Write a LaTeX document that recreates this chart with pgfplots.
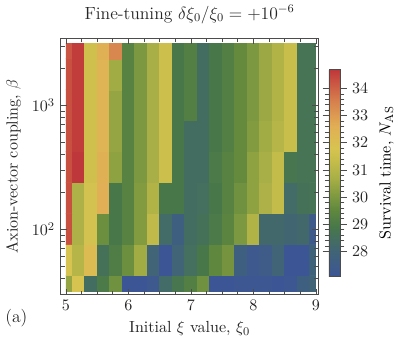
\documentclass[11pt,border=0pt]{standalone}
\usepackage{pgfplots}
\pgfplotsset{compat=1.18}

% blue -> green -> yellow -> red, positions = (value-27.08)*100pt
\pgfplotsset{
  colormap={darkrainbow}{
    rgb255(0pt)=(60,85,150)
    rgb255(92pt)=(65,100,118)
    rgb255(182pt)=(72,120,74)
    rgb255(242pt)=(95,135,62)
    rgb255(302pt)=(130,155,64)
    rgb255(362pt)=(168,175,70)
    rgb255(432pt)=(200,190,75)
    rgb255(472pt)=(215,195,80)
    rgb255(552pt)=(225,175,85)
    rgb255(642pt)=(215,130,78)
    rgb255(722pt)=(200,80,65)
    rgb255(762pt)=(190,55,58)
  }
}

\begin{document}
\begin{tikzpicture}
\begin{axis}[
    scale only axis,
    width=176pt, height=175pt,
    xmin=4.915, xmax=9.045,
    ymode=log, ymin=29.58, ymax=3483.4,
    xtick={5,6,7,8,9}, minor x tick num=3,
    tick align=inside,
    axis line style={black!70},
    every tick/.style={black!70},
    tick label style={black!85},
    label style={black!85},
    title style={black!85, font=\large},
    title={Fine-tuning $\delta\xi_0/\xi_0=+10^{-6}$},
    xlabel={Initial $\xi$ value, $\xi_0$},
    ylabel={Axion-vector coupling, $\beta$},
    colormap name=darkrainbow,
    point meta min=27.08, point meta max=34.70,
    colorbar,
    colorbar style={
        at={(1.040,0.475)}, anchor=west,
        width=7.7pt, height=141pt,
        ytick={28,29,30,31,32,33,34},
        minor y tick num=4,
        tick align=outside,
        axis line style={black!70},
        tick label style={black!85},
        ylabel={Survival time, $N_{\mathrm{AS}}$},
    },
    axis on top,
]
\begin{scope}
\clip (axis cs:5,31.6228) rectangle (axis cs:9,3162.28);
\addplot[matrix plot*, mesh/cols=21, point meta=explicit]
  table[meta=c, row sep=\\] {
  x y c \\
  5.0 31.6228 30.4 \\ 5.2 31.6228 31.8 \\ 5.4 31.6228 28.4 \\ 5.6 31.6228 29.0 \\ 5.8 31.6228 29.8 \\ 6.0 31.6228 27.1 \\ 6.2 31.6228 27.1 \\
  6.4 31.6228 27.3 \\ 6.6 31.6228 28.3 \\ 6.8 31.6228 28.8 \\ 7.0 31.6228 29.2 \\ 7.2 31.6228 29.8 \\ 7.4 31.6228 27.1 \\ 7.6 31.6228 27.1 \\
  7.8 31.6228 27.2 \\ 8.0 31.6228 27.2 \\ 8.2 31.6228 27.2 \\ 8.4 31.6228 27.1 \\ 8.6 31.6228 27.2 \\ 8.8 31.6228 27.7 \\ 9.0 31.6228 28.0 \\
  5.0 56.2341 31.8 \\ 5.2 56.2341 31.0 \\ 5.4 56.2341 32.1 \\ 5.6 56.2341 28.6 \\ 5.8 56.2341 29.1 \\ 6.0 56.2341 29.7 \\ 6.2 56.2341 30.6 \\
  6.4 56.2341 28.0 \\ 6.6 56.2341 27.1 \\ 6.8 56.2341 28.0 \\ 7.0 56.2341 28.5 \\ 7.2 56.2341 28.9 \\ 7.4 56.2341 29.5 \\ 7.6 56.2341 29.9 \\
  7.8 56.2341 27.7 \\ 8.0 56.2341 27.3 \\ 8.2 56.2341 27.5 \\ 8.4 56.2341 28.0 \\ 8.6 56.2341 27.1 \\ 8.8 56.2341 27.1 \\ 9.0 56.2341 27.9 \\
  5.0 100 34.3 \\ 5.2 100 30.8 \\ 5.4 100 31.7 \\ 5.6 100 29.7 \\ 5.8 100 28.9 \\ 6.0 100 29.3 \\ 6.2 100 30.1 \\
  6.4 100 31.2 \\ 6.6 100 28.3 \\ 6.8 100 27.7 \\ 7.0 100 28.4 \\ 7.2 100 28.6 \\ 7.4 100 29.0 \\ 7.6 100 29.4 \\
  7.8 100 30.0 \\ 8.0 100 30.9 \\ 8.2 100 28.2 \\ 8.4 100 28.2 \\ 8.6 100 28.1 \\ 8.8 100 28.2 \\ 9.0 100 27.4 \\
  5.0 177.828 34.3 \\ 5.2 177.828 30.8 \\ 5.4 177.828 31.7 \\ 5.6 177.828 32.6 \\ 5.8 177.828 28.9 \\ 6.0 177.828 29.3 \\ 6.2 177.828 30.1 \\
  6.4 177.828 30.9 \\ 6.6 177.828 28.9 \\ 6.8 177.828 28.9 \\ 7.0 177.828 28.4 \\ 7.2 177.828 28.5 \\ 7.4 177.828 28.9 \\ 7.6 177.828 29.3 \\
  7.8 177.828 29.8 \\ 8.0 177.828 30.3 \\ 8.2 177.828 30.8 \\ 8.4 177.828 31.3 \\ 8.6 177.828 28.3 \\ 8.8 177.828 28.6 \\ 9.0 177.828 28.7 \\
  5.0 316.228 34.3 \\ 5.2 316.228 34.7 \\ 5.4 316.228 31.6 \\ 5.6 316.228 32.5 \\ 5.8 316.228 30.3 \\ 6.0 316.228 29.3 \\ 6.2 316.228 30.0 \\
  6.4 316.228 30.7 \\ 6.6 316.228 31.5 \\ 6.8 316.228 28.9 \\ 7.0 316.228 28.4 \\ 7.2 316.228 28.4 \\ 7.4 316.228 29.0 \\ 7.6 316.228 29.3 \\
  7.8 316.228 29.6 \\ 8.0 316.228 30.3 \\ 8.2 316.228 30.7 \\ 8.4 316.228 31.3 \\ 8.6 316.228 28.8 \\ 8.8 316.228 28.7 \\ 9.0 316.228 28.7 \\
  5.0 562.341 34.3 \\ 5.2 562.341 34.6 \\ 5.4 562.341 31.6 \\ 5.6 562.341 32.4 \\ 5.8 562.341 30.4 \\ 6.0 562.341 29.3 \\ 6.2 562.341 30.0 \\
  6.4 562.341 30.7 \\ 6.6 562.341 31.5 \\ 6.8 562.341 28.9 \\ 7.0 562.341 28.4 \\ 7.2 562.341 28.4 \\ 7.4 562.341 28.9 \\ 7.6 562.341 29.2 \\
  7.8 562.341 29.6 \\ 8.0 562.341 30.1 \\ 8.2 562.341 30.6 \\ 8.4 562.341 31.0 \\ 8.6 562.341 31.4 \\ 8.8 562.341 28.7 \\ 9.0 562.341 28.7 \\
  5.0 1000 34.3 \\ 5.2 1000 34.6 \\ 5.4 1000 31.6 \\ 5.6 1000 32.4 \\ 5.8 1000 30.4 \\ 6.0 1000 29.3 \\ 6.2 1000 30.0 \\
  6.4 1000 30.7 \\ 6.6 1000 31.5 \\ 6.8 1000 28.9 \\ 7.0 1000 29.2 \\ 7.2 1000 28.4 \\ 7.4 1000 28.9 \\ 7.6 1000 29.2 \\
  7.8 1000 29.6 \\ 8.0 1000 30.0 \\ 8.2 1000 30.5 \\ 8.4 1000 30.9 \\ 8.6 1000 31.4 \\ 8.8 1000 28.7 \\ 9.0 1000 28.7 \\
  5.0 1778.28 34.3 \\ 5.2 1778.28 34.6 \\ 5.4 1778.28 31.6 \\ 5.6 1778.28 32.4 \\ 5.8 1778.28 30.6 \\ 6.0 1778.28 29.3 \\ 6.2 1778.28 30.0 \\
  6.4 1778.28 30.7 \\ 6.6 1778.28 31.5 \\ 6.8 1778.28 28.9 \\ 7.0 1778.28 29.2 \\ 7.2 1778.28 28.4 \\ 7.4 1778.28 28.9 \\ 7.6 1778.28 29.2 \\
  7.8 1778.28 29.6 \\ 8.0 1778.28 30.0 \\ 8.2 1778.28 30.5 \\ 8.4 1778.28 30.9 \\ 8.6 1778.28 31.4 \\ 8.8 1778.28 28.7 \\ 9.0 1778.28 28.7 \\
  5.0 3162.28 34.2 \\ 5.2 3162.28 34.6 \\ 5.4 3162.28 31.6 \\ 5.6 3162.28 32.5 \\ 5.8 3162.28 33.4 \\ 6.0 3162.28 29.3 \\ 6.2 3162.28 30.0 \\
  6.4 3162.28 30.7 \\ 6.6 3162.28 31.5 \\ 6.8 3162.28 28.9 \\ 7.0 3162.28 29.2 \\ 7.2 3162.28 28.4 \\ 7.4 3162.28 28.9 \\ 7.6 3162.28 29.2 \\
  7.8 3162.28 29.6 \\ 8.0 3162.28 30.0 \\ 8.2 3162.28 30.5 \\ 8.4 3162.28 30.9 \\ 8.6 3162.28 31.4 \\ 8.8 3162.28 28.7 \\ 9.0 3162.28 28.7 \\
  };
\end{scope}
\end{axis}
\node[anchor=base west, font=\large, text=black!85] at ([xshift=-41.5pt, yshift=-19pt]current axis.south west) {(a)};
\end{tikzpicture}
\end{document}
